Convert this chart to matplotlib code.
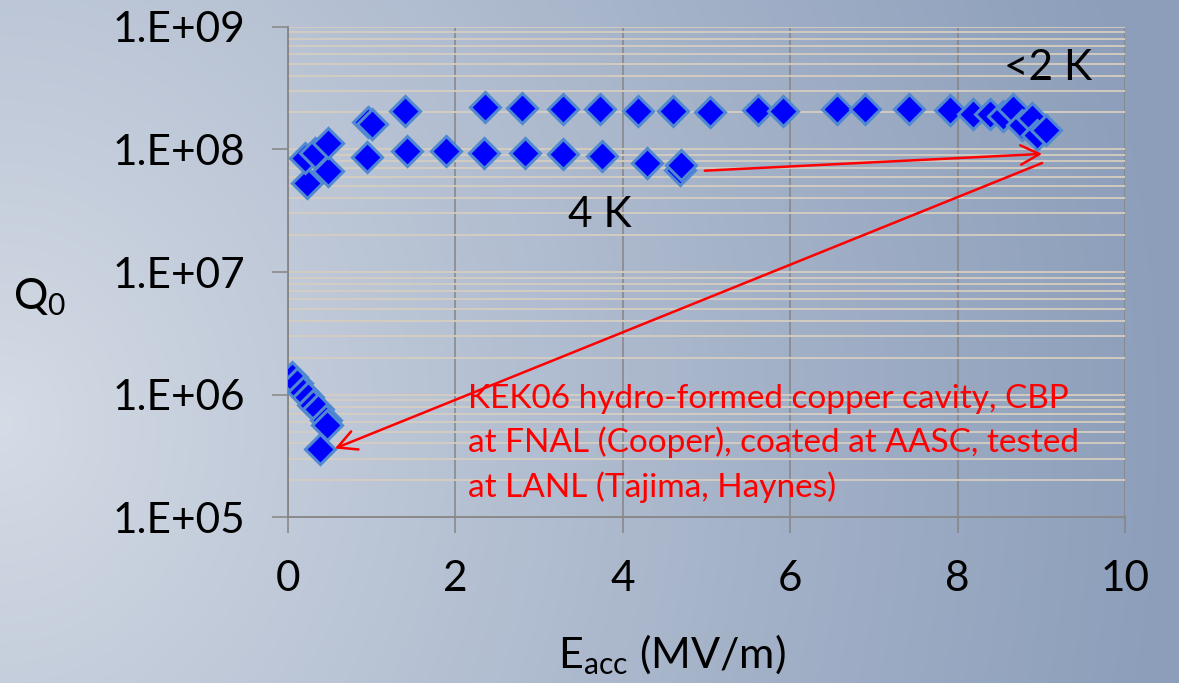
import numpy as np
import matplotlib
matplotlib.use("Agg")
import matplotlib.pyplot as plt
from matplotlib.ticker import FixedLocator, FixedFormatter, LogLocator, NullFormatter

# ---- data ----
low_T_E = [0.96, 1.00, 1.40, 2.35, 2.80, 3.29, 3.73, 4.18, 4.60, 5.04,
           5.62, 5.91, 6.56, 6.89, 7.42, 7.91, 8.18, 8.39, 8.54, 8.66,
           8.77, 8.89, 8.95, 9.06, 0.20, 0.32, 0.48]
low_T_Q = [1.67e8, 1.62e8, 2.06e8, 2.22e8, 2.16e8, 2.12e8, 2.12e8, 2.06e8, 2.06e8, 2.02e8,
           2.10e8, 2.06e8, 2.12e8, 2.12e8, 2.12e8, 2.08e8, 1.96e8, 1.96e8, 1.86e8, 2.12e8,
           1.59e8, 1.80e8, 1.31e8, 1.44e8, 8.5e7, 9.4e7, 1.13e8]

k4_E = [0.23, 0.48, 0.94, 1.42, 1.89, 2.34, 2.83, 3.29, 3.75, 4.29, 4.68, 4.70]
k4_Q = [5.3e7, 6.6e7, 8.7e7, 9.7e7, 9.7e7, 9.4e7, 9.4e7, 9.2e7, 8.9e7, 7.8e7, 6.8e7, 7.5e7]

cu_E = [0.05, 0.11, 0.18, 0.24, 0.30, 0.36, 0.45, 0.47, 0.38]
cu_Q = [1.40e6, 1.24e6, 1.06e6, 9.5e5, 8.3e5, 7.6e5, 6.2e5, 5.7e5, 3.6e5]

x_ticks = [0, 2, 4, 6, 8, 10]
x_tick_labels = ['0', '2', '4', '6', '8', '10']
y_ticks = [1e5, 1e6, 1e7, 1e8, 1e9]
y_tick_labels = ['1.E+05', '1.E+06', '1.E+07', '1.E+08', '1.E+09']

note_lines = ["KEK06 hydro-formed copper cavity, CBP",
              "at FNAL (Cooper), coated at AASC, tested",
              "at LANL (Tajima, Haynes)"]

# ---- styling ----
plt.rcParams['font.family'] = ['Lato', 'DejaVu Sans']
plt.rcParams['mathtext.fontset'] = 'custom'
plt.rcParams['mathtext.rm'] = 'Lato'
plt.rcParams['mathtext.it'] = 'Lato'

W, H = 1179, 683
fig = plt.figure(figsize=(W / 100, H / 100), dpi=100)

# background gradient (light at left-middle, darker towards the right)
bg = fig.add_axes([0, 0, 1, 1], zorder=-10)
xx, yy = np.meshgrid(np.linspace(0, 1, 400), np.linspace(0, 1, 240))
d = np.sqrt(xx ** 2 + ((yy - 0.62) / 2.0) ** 2)
t = np.clip(d, 0, 1) ** 0.9
c0 = np.array([214, 220, 230]) / 255.0
c1 = np.array([140, 158, 186]) / 255.0
img = c0[None, None, :] * (1 - t[..., None]) + c1[None, None, :] * t[..., None]
bg.imshow(img, aspect='auto', extent=[0, 1, 0, 1], origin='upper')
bg.set_axis_off()

left, right, top, bottom = 288, 1125, 26.7, 517.3
ax = fig.add_axes([left / W, 1 - bottom / H, (right - left) / W, (bottom - top) / H])
ax.set_facecolor('none')
ax.set_yscale('log')
ax.set_xlim(0, 10)
ax.set_ylim(1e5, 1e9)

ax.yaxis.set_major_locator(FixedLocator(y_ticks))
ax.yaxis.set_major_formatter(FixedFormatter(y_tick_labels))
ax.yaxis.set_minor_locator(LogLocator(base=10, subs=np.arange(2, 10)))
ax.yaxis.set_minor_formatter(NullFormatter())
ax.xaxis.set_major_locator(FixedLocator(x_ticks))
ax.xaxis.set_major_formatter(FixedFormatter(x_tick_labels))

ax.grid(axis='y', which='both', color='#d6cdc0', linewidth=1.3, zorder=0)
ax.grid(axis='x', which='major', color='#858585', linewidth=1.1, zorder=0)
ax.set_axisbelow(True)

for s in ['top', 'right']:
    ax.spines[s].set_visible(False)
for s in ['left', 'bottom']:
    ax.spines[s].set_color('#858585')
    ax.spines[s].set_linewidth(1.3)

ax.tick_params(axis='both', which='major', direction='out', length=11.5, width=1.1,
               color='#858585', labelsize=30.5, pad=19, labelcolor='black')
ax.tick_params(axis='y', which='minor', length=0)

mk = dict(marker='D', markersize=15.5, markerfacecolor='#0000ff',
          markeredgecolor='#5088d2', markeredgewidth=2.2, linestyle='none', zorder=3)
ax.plot(k4_E, k4_Q, **mk)
ax.plot(low_T_E, low_T_Q, **mk)
ax.plot(cu_E, cu_Q, **mk)

# arrows
arrow_kw = dict(arrowstyle='->,head_length=1.35,head_width=0.7', color='red', lw=1.8,
                shrinkA=0, shrinkB=0, mutation_scale=10)
ax.annotate('', xy=(9.01, 9.18e7), xytext=(4.98, 6.7e7), arrowprops=arrow_kw, zorder=4)
ax.annotate('', xy=(0.56, 3.64e5), xytext=(9.01, 7.74e7), arrowprops=arrow_kw, zorder=4)

# texts
fig.text(1048 / W, 1 - 68 / H, '<2 K', fontsize=30.5, ha='center', va='center')
fig.text(600 / W, 1 - 215 / H, '4 K', fontsize=30.5, ha='center', va='center')
for line, base in zip(note_lines, [408, 452, 497]):
    fig.text(468 / W, 1 - base / H, line, fontsize=24, color='red', ha='left', va='baseline')

fig.text(40 / W, 1 - 297 / H, r'$\mathrm{Q_0}$', fontsize=31, ha='center', va='center')
fig.text(672 / W, 1 - 655 / H, r'$\mathrm{E_{acc}}$ (MV/m)', fontsize=31, ha='center', va='center')

fig.savefig('out.png', dpi=100)
